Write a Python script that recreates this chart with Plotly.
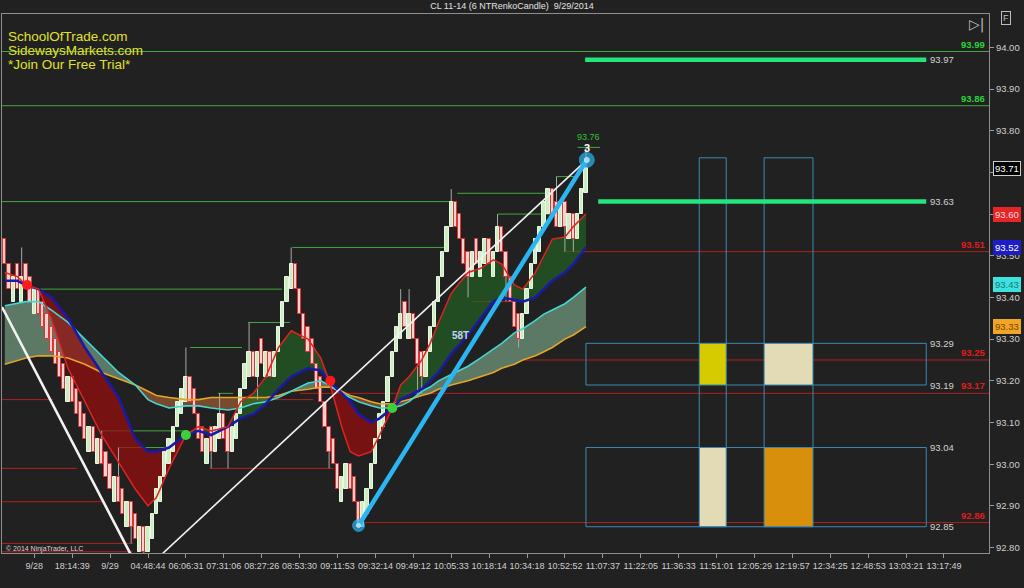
import plotly.graph_objects as go

BG = "#212121"
FONT = "Liberation Sans, Arial, sans-serif"
AXIS_TXT = "#cfcfcf"
BRICK = 0.06

# ---------------- price data: close of each 6-tick renko candle ----------------
brick_close = [
    93.48, 93.42, 93.45, 93.42, 93.45, 93.42, 93.39, 93.42, 93.36, 93.33,
    93.30, 93.27, 93.24, 93.21, 93.18, 93.21, 93.15, 93.12, 93.09, 93.06,
    93.09, 93.03, 93.06, 93.00, 92.97, 92.94, 92.97, 92.91, 92.88, 92.91,
    92.85, 92.82, 92.85, 92.79, 92.85, 92.88, 92.94, 92.97, 93.03, 93.06,
    93.09, 93.15, 93.18, 93.21, 93.15, 93.12, 93.06, 93.03, 93.06, 93.03,
    93.09, 93.12, 93.06, 93.03, 93.09, 93.12, 93.18, 93.24, 93.27, 93.21,
    93.27, 93.24, 93.27, 93.21, 93.27, 93.33, 93.39, 93.45, 93.48, 93.42,
    93.36, 93.30, 93.27, 93.24, 93.18, 93.15, 93.09, 93.03, 93.00, 92.94,
    92.97, 93.00, 92.94, 92.91, 92.85, 92.91, 92.94, 93.00, 93.06, 93.12,
    93.15, 93.21, 93.27, 93.33, 93.36, 93.33, 93.36, 93.30, 93.24, 93.21,
    93.27, 93.33, 93.39, 93.45, 93.51, 93.57, 93.63, 93.57, 93.54, 93.48,
    93.45, 93.51, 93.48, 93.51, 93.54, 93.48, 93.51, 93.57, 93.51, 93.45,
    93.39, 93.33, 93.30, 93.36, 93.42, 93.48, 93.54, 93.57, 93.63, 93.66,
    93.60, 93.57, 93.63, 93.57, 93.60, 93.54, 93.60, 93.66, 93.71,
]
# candle extremes that reach beyond the body
wick_hi_bar = [4, 23, 27, 43, 51, 58, 68, 94, 96, 106, 117, 131, 138]
wick_hi = [93.52, 93.08, 93.04, 93.28, 93.17, 93.34, 93.52, 93.42, 93.42, 93.66, 93.60, 93.69, 93.76]
wick_lo_bar = [30, 33, 49, 53, 60, 77, 98, 99, 110, 119, 122, 133, 135]
wick_lo = [92.81, 92.78, 92.99, 92.99, 93.155, 92.99, 93.17, 93.17, 93.40, 93.39, 93.28, 93.51, 93.51]

# ---------------- indicator readings (bar index -> level) ----------------
ma_bar = [0, 3, 5, 8, 11, 15, 19, 23, 27, 31, 34, 36, 39, 43, 46, 49, 53, 56, 59, 62,
          65, 68, 72, 75, 77, 80, 82, 84, 87, 89, 92, 94, 96, 99, 101, 103, 106, 110,
          113, 116, 118, 121, 123, 126, 128, 130, 133, 135, 138]
fast_ma = [93.46, 93.45, 93.43, 93.42, 93.35, 93.23, 93.15, 93.07, 93.005, 92.94,
           92.90, 92.92, 92.99, 93.07, 93.09, 93.08, 93.09, 93.15, 93.17, 93.21,
           93.28, 93.32, 93.30, 93.255, 93.20, 93.09, 93.03, 93.02, 93.03, 93.07,
           93.135, 93.19, 93.21, 93.25, 93.29, 93.34, 93.41, 93.46, 93.47, 93.49,
           93.48, 93.43, 93.42, 93.46, 93.50, 93.54, 93.545, 93.57, 93.60]
slow_ma = [93.44, 93.44, 93.43, 93.42, 93.40, 93.35, 93.28, 93.22, 93.16, 93.06,
           93.03, 93.03, 93.04, 93.07, 93.08, 93.07, 93.09, 93.11, 93.12, 93.145,
           93.18, 93.21, 93.23, 93.225, 93.20, 93.17, 93.15, 93.12, 93.10, 93.11,
           93.135, 93.155, 93.165, 93.18, 93.20, 93.22, 93.265, 93.31, 93.35, 93.39,
           93.40, 93.395, 93.39, 93.40, 93.42, 93.44, 93.46, 93.48, 93.52]
band_upper = [93.38, 93.385, 93.39, 93.39, 93.37, 93.34, 93.30, 93.26, 93.22, 93.19,
              93.155, 93.145, 93.135, 93.14, 93.14, 93.135, 93.13, 93.135, 93.145, 93.15,
              93.16, 93.175, 93.195, 93.20, 93.19, 93.17, 93.16, 93.15, 93.14, 93.135,
              93.135, 93.14, 93.15, 93.175, 93.185, 93.20, 93.215, 93.235, 93.255, 93.275,
              93.29, 93.315, 93.325, 93.345, 93.36, 93.37, 93.385, 93.40, 93.425]
band_lower = [93.24, 93.25, 93.255, 93.26, 93.26, 93.255, 93.24, 93.22, 93.205, 93.19,
              93.175, 93.165, 93.16, 93.155, 93.155, 93.16, 93.16, 93.16, 93.16, 93.16,
              93.165, 93.175, 93.18, 93.185, 93.185, 93.175, 93.165, 93.16, 93.15, 93.145,
              93.145, 93.15, 93.155, 93.165, 93.17, 93.18, 93.19, 93.20, 93.21, 93.22,
              93.23, 93.24, 93.25, 93.26, 93.27, 93.28, 93.30, 93.31, 93.33]

# crossover markers of the fast / slow averages
cross_bar = [5.3, 43.0, 77.3, 92.0]
cross_px = [93.43, 93.07, 93.20, 93.135]
cross_col = ["#ff1a1a", "#3ccf3c", "#ff1a1a", "#3ccf3c"]

# swing levels: price, first bar, last bar
END = 233.7
hi_level = [93.99, 93.86, 93.42, 93.63, 93.52, 93.28, 93.34, 93.17, 93.08, 93.04, 93.65, 93.60, 93.69, 93.76]
hi_from = [-0.7, -0.7, 8.4, -0.7, 68.3, 44.0, 57.8, 50.6, 22.6, 26.9, 107.4, 117.0, 131.0, 136.0]
hi_to = [END, END, 65.8, 107.0, 104.5, 56.3, 67.7, 54.2, 42.8, 38.5, 128.8, 130.0, 136.0, 141.3]
lo_level = [93.155, 92.99, 92.91, 92.81, 92.79, 92.99, 93.155, 93.17, 93.25, 93.51, 92.86, 93.39]
lo_from = [-0.7, -0.7, -0.7, -0.7, -0.7, 48.7, 60.0, 70.0, 122.8, 132.6, 84.0, 111.0]
lo_to = [11.4, 17.1, 23.3, 30.4, 30.4, 78.0, 73.2, END, END, END, END, 120.0]

# projection zones on the right
zone_x = [138.0, 218.8]
zone_top = [93.29, 93.04]
zone_bot = [93.19, 92.85]
col_x0 = [164.9, 180.3]
col_x1 = [171.3, 191.9]
col_top = 93.735
cell_fill = [["#d6cb00", "#e3dbb6"], ["#e3dbb6", "#d8900c"]]
target_level = [93.97, 93.63]
target_from = [137.8, 140.9]
zone_labels = ["93.97", "93.63", "93.29", "93.19", "93.04", "92.85"]
zone_label_px = [93.97, 93.63, 93.29, 93.19, 93.04, 92.85]

# trend lines (bar, price)
white_a = ([-0.67, 30.6], [93.377, 92.770])
white_b = ([36.85, 138.2], [92.780, 93.730])
wave_line = ([84.0, 138.2], [92.853, 93.730])

# axis labels
time_labels = ["9/28", "18:14:39", "9/29", "04:48:44", "06:06:31", "07:31:06", "08:27:26",
               "08:53:30", "09:11:53", "09:32:14", "09:49:12", "10:05:33", "10:18:14",
               "10:34:18", "10:52:52", "11:07:37", "11:22:05", "11:36:33", "11:51:01",
               "12:05:29", "12:19:57", "12:34:25", "12:48:53", "13:03:21", "13:17:49"]
time_ticks = [7 + 9 * k for k in range(len(time_labels))]
price_ticks = [round(92.8 + 0.1 * k, 2) for k in range(13)]

# axis flags: value, background, text colour, border
flags = [(93.71, "#000000", "#ffffff", "#d0d0d0"),
         (93.60, "#e62626", "#ffd6d6", "#e62626"),
         (93.52, "#1c1cc8", "#ffffff", "#1c1cc8"),
         (93.43, "#3fe0e0", "#137b7b", "#3fe0e0"),
         (93.33, "#f0a624", "#7a4600", "#f0a624")]

XR = [-0.67, 233.7]
YR = [92.787, 94.080]

fig = go.Figure()


def band_segments(xs, a, b):
    """Split the area between two curves into pieces of constant sign."""
    segs = []
    cx, ca, cb = [xs[0]], [a[0]], [b[0]]
    sign = a[0] >= b[0]
    for i in range(1, len(xs)):
        s = a[i] >= b[i]
        if s != sign:
            d0 = a[i - 1] - b[i - 1]
            d1 = a[i] - b[i]
            t = d0 / (d0 - d1)
            xc = xs[i - 1] + t * (xs[i] - xs[i - 1])
            yc = a[i - 1] + t * (a[i] - a[i - 1])
            cx.append(xc); ca.append(yc); cb.append(yc)
            segs.append((cx, ca, cb, sign))
            cx, ca, cb = [xc], [yc], [yc]
            sign = s
        cx.append(xs[i]); ca.append(a[i]); cb.append(b[i])
    segs.append((cx, ca, cb, sign))
    return segs


def add_band(a, b, col_pos, col_neg):
    for sx, sa, sb, pos in band_segments(ma_bar, a, b):
        fig.add_trace(go.Scatter(
            x=sx + sx[::-1], y=sa + sb[::-1], mode="lines", fill="toself",
            fillcolor=col_pos if pos else col_neg, line=dict(width=0),
            hoverinfo="skip", showlegend=False, xaxis="x", yaxis="y"))


# ---- layer 1: indicator clouds and candle wicks ----
add_band(band_upper, band_lower, "rgba(130,180,145,0.60)", "rgba(175,100,55,0.62)")
add_band(fast_ma, slow_ma, "rgba(35,105,35,0.62)", "rgba(150,14,14,0.74)")

wx, wy = [], []
for b, v in zip(wick_hi_bar + wick_lo_bar, wick_hi + wick_lo):
    wx += [b, b, None]
    wy += [v, brick_close[b], None]
fig.add_trace(go.Scatter(x=wx, y=wy, mode="lines", line=dict(color="#a9a9a9", width=1),
                         hoverinfo="skip", showlegend=False, xaxis="x", yaxis="y"))

# ---- layer 2: renko candles ----
bars, bases, heights, fills, edges = [], [], [], [], []
prev = None
for i, c in enumerate(brick_close):
    up = prev is not None and c > prev
    o = c - BRICK if up else c + BRICK
    bars.append(i)
    bases.append(min(o, c))
    heights.append(abs(c - o))
    fills.append("#cdeec2" if up else "#f4d2d2")
    edges.append("#e9f8e2" if up else "#dd3434")
    prev = c
fig.add_trace(go.Bar(x=bars, y=heights, base=bases, width=0.78,
                     marker=dict(color=fills, line=dict(color=edges, width=1)),
                     hoverinfo="skip", showlegend=False, xaxis="x2", yaxis="y2"))

# ---- layer 3: average lines, trend lines, markers ----
def line(xs, ys, color, width):
    fig.add_trace(go.Scatter(x=xs, y=ys, mode="lines", line=dict(color=color, width=width),
                             hoverinfo="skip", showlegend=False, xaxis="x3", yaxis="y3"))


line(ma_bar, band_lower, "#e3a52a", 1.6)
line(ma_bar, band_upper, "#45d6d6", 1.6)
line(ma_bar, slow_ma, "#1a1aa6", 2.6)
line(ma_bar, fast_ma, "#e02222", 1.5)
line(*white_a, "#f2f2f2", 2.6)
line(*white_b, "#f2f2f2", 1.6)
line(*wave_line, "#2bb6f2", 4.5)

fig.add_trace(go.Scatter(x=cross_bar, y=cross_px, mode="markers",
                         marker=dict(size=10, color=cross_col, line=dict(width=0)),
                         hoverinfo="skip", showlegend=False, xaxis="x3", yaxis="y3"))
fig.add_trace(go.Scatter(x=wave_line[0], y=wave_line[1], mode="markers",
                         marker=dict(size=[12, 15], color="#2bb6f2",
                                     line=dict(color="#2bb6f2", width=1)),
                         hoverinfo="skip", showlegend=False, xaxis="x3", yaxis="y3"))
fig.add_trace(go.Scatter(x=wave_line[0], y=wave_line[1], mode="markers",
                         marker=dict(size=[4, 5], color="#cdefff"),
                         hoverinfo="skip", showlegend=False, xaxis="x3", yaxis="y3"))

# ---- shapes: swing levels, zones, targets ----
shapes = []
for lv, a, b in zip(hi_level, hi_from, hi_to):
    shapes.append(dict(type="line", xref="x", yref="y", x0=a, x1=b, y0=lv, y1=lv,
                       line=dict(color="#3faa3f", width=1), layer="below"))
for lv, a, b in zip(lo_level, lo_from, lo_to):
    shapes.append(dict(type="line", xref="x", yref="y", x0=a, x1=b, y0=lv, y1=lv,
                       line=dict(color="#b02020", width=1), layer="below"))
for r in range(2):
    for c in range(2):
        shapes.append(dict(type="rect", xref="x", yref="y", x0=col_x0[c], x1=col_x1[c],
                           y0=zone_bot[r], y1=zone_top[r], fillcolor=cell_fill[r][c],
                           line=dict(width=0), layer="below"))
for r in range(2):
    shapes.append(dict(type="rect", xref="x", yref="y", x0=zone_x[0], x1=zone_x[1],
                       y0=zone_bot[r], y1=zone_top[r], line=dict(color="#3b8bb3", width=1)))
for c in range(2):
    shapes.append(dict(type="rect", xref="x", yref="y", x0=col_x0[c], x1=col_x1[c],
                       y0=zone_bot[1], y1=col_top, line=dict(color="#3b8bb3", width=1)))
for lv, a in zip(target_level, target_from):
    shapes.append(dict(type="line", xref="x", yref="y", x0=a, x1=zone_x[1], y0=lv, y1=lv,
                       line=dict(color="#22e67c", width=4.5)))

# ---- annotations ----
ann = []
for txt, ty in [("SchoolOfTrade.com", 0.9583), ("SidewaysMarkets.com", 0.9314),
                ("*Join Our Free Trial*", 0.9054)]:
    ann.append(dict(text=txt, xref="paper", yref="paper", x=0.004, y=ty, xanchor="left",
                    yanchor="middle", showarrow=False,
                    font=dict(family=FONT, size=13.5, color="#e2e22c")))
for lv in [93.99, 93.86]:
    ann.append(dict(text=f"<b>{lv:.2f}</b>", xref="paper", yref="y", x=0.998, y=lv,
                    xanchor="right", yanchor="bottom", showarrow=False,
                    font=dict(family=FONT, size=9.5, color="#2fd23a")))
for lv, shown in [(93.51, "93.51"), (93.25, "93.25"), (93.17, "93.17"), (92.86, "92.86")]:
    ann.append(dict(text=f"<b>{shown}</b>", xref="paper", yref="y", x=0.998, y=lv,
                    xanchor="right", yanchor="bottom", showarrow=False,
                    font=dict(family=FONT, size=9.5, color="#e01c1c")))
for txt, lv in zip(zone_labels, zone_label_px):
    ann.append(dict(text=txt, xref="x", yref="y", x=219.3, y=lv, xanchor="left",
                    yanchor="middle", showarrow=False,
                    font=dict(family=FONT, size=9.5, color="#d2d2d2")))
for val, bg, fg, bd in flags:
    ann.append(dict(text=f"{val:.2f}", xref="paper", yref="y", x=1.0, xshift=4, y=val,
                    xanchor="left", yanchor="middle", showarrow=False, bgcolor=bg,
                    bordercolor=bd, borderwidth=1, borderpad=1,
                    font=dict(family=FONT, size=9.5, color=fg)))
ann.append(dict(text="<b>58T</b>", xref="x", yref="y", x=108.1, y=93.308, showarrow=False,
                font=dict(family=FONT, size=10, color="#c6d2f2")))
ann.append(dict(text="93.76", xref="x", yref="y", x=138.6, y=93.785, showarrow=False,
                font=dict(family=FONT, size=9, color="#33c033")))
ann.append(dict(text="<b>3</b>", xref="x", yref="y", x=138.3, y=93.758, showarrow=False,
                font=dict(family=FONT, size=11, color="#ffffff")))
ann.append(dict(text="© 2014 NinjaTrader, LLC", xref="paper", yref="paper", x=0.002, y=0.008,
                xanchor="left", yanchor="middle", showarrow=False,
                font=dict(family=FONT, size=7, color="#d8d8d8")))
ann.append(dict(text="▷|", xref="paper", yref="paper", x=0.987, y=0.981, xanchor="center",
                yanchor="middle", showarrow=False,
                font=dict(family="DejaVu Sans", size=14, color="#bdbdbd")))
ann.append(dict(text="F", xref="paper", yref="paper", x=1.017, y=0.9926, xanchor="center",
                yanchor="middle", showarrow=False,
                bordercolor="#bdbdbd", borderwidth=1, borderpad=1,
                font=dict(family=FONT, size=9, color="#bdbdbd")))

fig.update_layout(
    width=1024, height=588,
    margin=dict(l=2, r=35, t=14, b=35),
    paper_bgcolor=BG, plot_bgcolor=BG,
    showlegend=False, bargap=0,
    title=dict(text="CL 11-14 (6 NTRenkoCandle)  9/29/2014", x=0.5, xanchor="center",
               y=0.9898, yanchor="middle", font=dict(family=FONT, size=9, color="#e2e2e2")),
    xaxis=dict(range=XR, showgrid=False, zeroline=False, tickmode="array",
               tickvals=time_ticks, ticktext=time_labels, ticks="outside", ticklen=4,
               tickangle=0, tickcolor="#9a9a9a", showline=True, linecolor="#8e8e8e",
               mirror=True, tickfont=dict(family=FONT, size=9, color=AXIS_TXT)),
    yaxis=dict(range=YR, side="right", showgrid=False, zeroline=False, tickmode="array",
               tickvals=price_ticks, ticktext=[f"{v:.2f}" for v in price_ticks],
               ticks="outside", ticklen=4, tickcolor="#9a9a9a", showline=True,
               linecolor="#8e8e8e", mirror=True,
               tickfont=dict(family=FONT, size=9.5, color=AXIS_TXT)),
    xaxis2=dict(overlaying="x", range=XR, visible=False),
    yaxis2=dict(overlaying="y", range=YR, visible=False),
    xaxis3=dict(overlaying="x", range=XR, visible=False),
    yaxis3=dict(overlaying="y", range=YR, visible=False),
    shapes=shapes,
    annotations=ann,
)

fig.write_html("out.html", config={"displayModeBar": False})
